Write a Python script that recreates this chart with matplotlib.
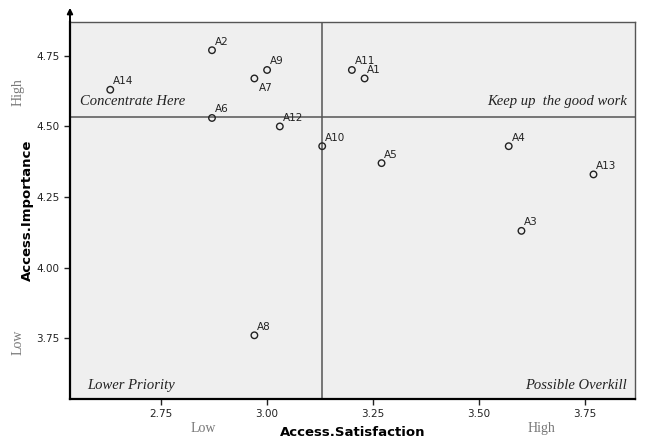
import matplotlib
matplotlib.use('Agg')
import matplotlib.pyplot as plt

# data
labels = ['A1', 'A2', 'A3', 'A4', 'A5', 'A6', 'A7', 'A8', 'A9', 'A10', 'A11', 'A12', 'A13', 'A14']
satisfaction = [3.23, 2.87, 3.60, 3.57, 3.27, 2.87, 2.97, 2.97, 3.00, 3.13, 3.20, 3.03, 3.77, 2.63]
importance = [4.67, 4.77, 4.13, 4.43, 4.37, 4.53, 4.67, 3.76, 4.70, 4.43, 4.70, 4.50, 4.33, 4.63]
x_ticks = [2.75, 3.00, 3.25, 3.50, 3.75]
y_ticks = [3.75, 4.00, 4.25, 4.50, 4.75]
x_mean = 3.13
y_mean = 4.532

fig = plt.figure(figsize=(6.48, 4.40), dpi=100)
ax = fig.add_axes([0.108, 0.093, 0.872, 0.857])
ax.set_facecolor('#efefef')

ax.scatter(satisfaction, importance, s=22, facecolors='none', edgecolors='#222222', linewidths=1.0, zorder=3)
for lab, x, y in zip(labels, satisfaction, importance):
    if lab == 'A7':
        ax.annotate(lab, (x, y), xytext=(3, -9), textcoords='offset points', fontsize=7.5, color='#222222')
    else:
        ax.annotate(lab, (x, y), xytext=(2, 4), textcoords='offset points', fontsize=7.5, color='#222222')

ax.axvline(x_mean, color='#555555', lw=1.1, zorder=2)
ax.axhline(y_mean, color='#555555', lw=1.1, zorder=2)

ax.set_xlim(2.535, 3.868)
ax.set_ylim(3.534, 4.87)
ax.set_xticks(x_ticks)
ax.set_yticks(y_ticks)
ax.set_xticklabels(['%.2f' % v for v in x_ticks])
ax.set_yticklabels(['%.2f' % v for v in y_ticks])
ax.tick_params(labelsize=7.5, colors='#222222', length=4, width=1)

for s in ['top', 'right']:
    ax.spines[s].set_color('#555555')
    ax.spines[s].set_linewidth(1.0)
for s in ['left', 'bottom']:
    ax.spines[s].set_color('black')
    ax.spines[s].set_linewidth(1.6)

ax.annotate('', xy=(0, 1.045), xytext=(0, 0.99), xycoords='axes fraction',
            arrowprops=dict(arrowstyle='-|>', color='black', lw=1.4, mutation_scale=8), annotation_clip=False)

ax.set_xlabel('Access.Satisfaction', fontsize=9.5, fontweight='bold', labelpad=5)
ax.set_ylabel('Access.Importance', fontsize=9.5, fontweight='bold', labelpad=2)

quad = dict(fontsize=10.5, fontstyle='italic', family='Liberation Serif', color='#222222')
ax.text(0.018, 0.772, 'Concentrate Here', transform=ax.transAxes, va='bottom', **quad)
ax.text(0.985, 0.772, 'Keep up  the good work', transform=ax.transAxes, ha='right', va='bottom', **quad)
ax.text(0.03, 0.018, 'Lower Priority', transform=ax.transAxes, va='bottom', **quad)
ax.text(0.985, 0.018, 'Possible Overkill', transform=ax.transAxes, ha='right', va='bottom', **quad)

hl = dict(fontsize=10, family='Liberation Serif', color='#777777')
fig.text(0.028, 0.79, 'High', rotation=90, va='center', ha='center', **hl)
fig.text(0.028, 0.223, 'Low', rotation=90, va='center', ha='center', **hl)
fig.text(0.313, 0.027, 'Low', va='center', ha='center', **hl)
fig.text(0.836, 0.027, 'High', va='center', ha='center', **hl)

fig.savefig('out.png', dpi=100)
